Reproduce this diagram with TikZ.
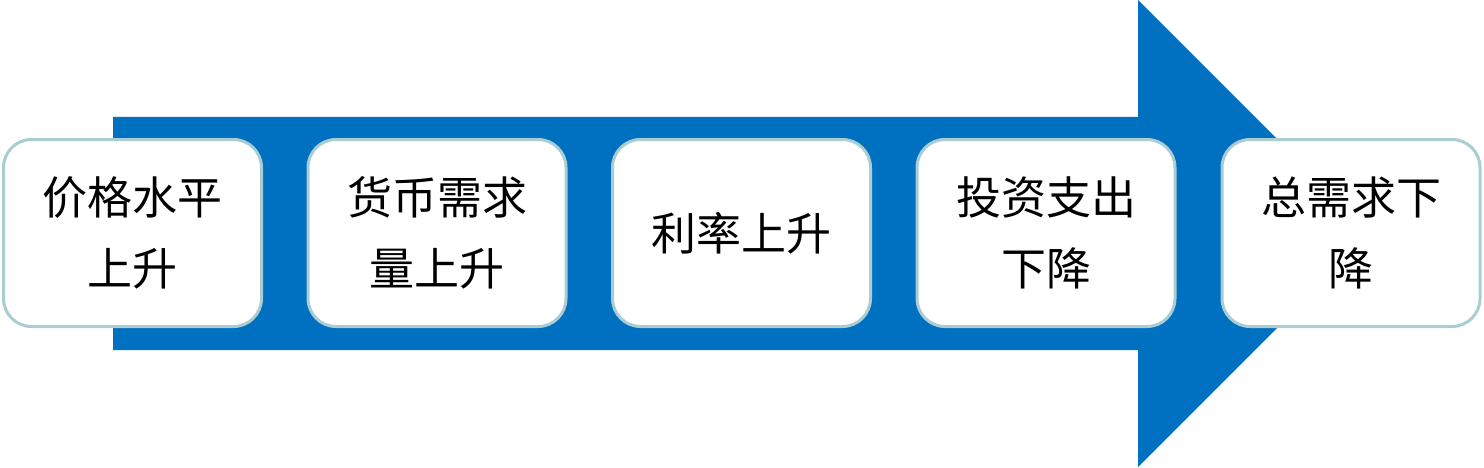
\documentclass[tikz,border=0pt]{standalone}
\usepackage{fontspec}
\setmainfont{Noto Sans CJK SC}
\begin{document}
\begin{tikzpicture}[x=1pt,y=1pt]
\definecolor{arrowblue}{HTML}{0070C0}
\definecolor{boxborder}{HTML}{A9CDD2}
\tikzset{stepbox/.style={draw=boxborder, line width=3pt, fill=white, rounded corners=28pt,
  minimum width=258pt, minimum height=187pt, align=center, inner sep=0pt,
  font=\fontsize{45}{71}\selectfont}}
\useasboundingbox (0,0) rectangle (1484,467);
\fill[arrowblue] (113,350) -- (1138,350) -- (1138,467) -- (1371.5,233.5) -- (1138,0) -- (1138,117) -- (113,117) -- cycle;
\node[stepbox] (b1) at (132.5,234) {价格水平\\上升};
\node[stepbox] (b2) at (437,234) {货币需求\\量上升};
\node[stepbox] (b3) at (741.5,234) {利率上升};
\node[stepbox] (b4) at (1046,234) {投资支出\\下降};
\node[stepbox] (b5) at (1351,234) {总需求下\\降};
\end{tikzpicture}
\end{document}
